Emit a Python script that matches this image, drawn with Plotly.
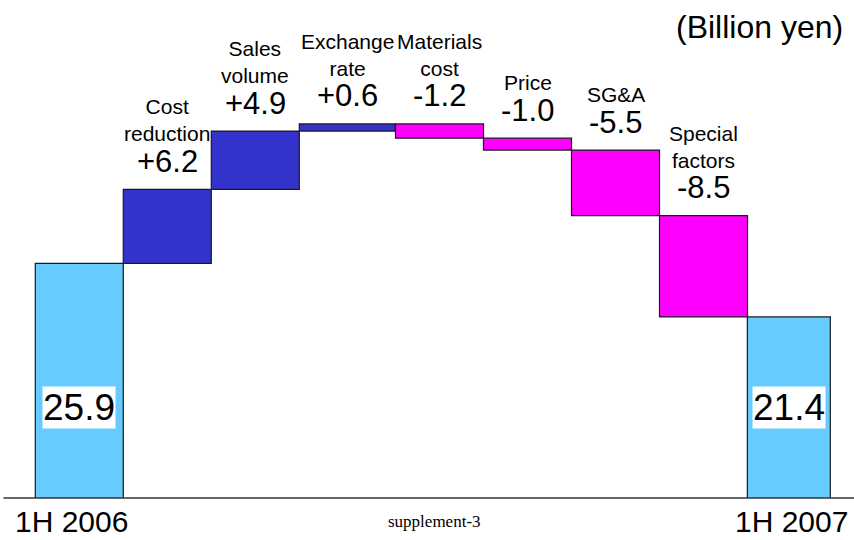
import numpy as np
import plotly.graph_objects as go

# Operating income bridge, 1H 2006 -> 1H 2007 (billion yen)
categories = ["1H 2006", "Cost<br>reduction", "Sales<br>volume", "Exchange<br>rate",
              "Materials<br>cost", "Price", "SG&A", "Special<br>factors", "1H 2007"]
values = [25.9, 6.2, 4.9, 0.6, -1.2, -1.0, -5.5, -8.5, 21.4]
measures = ["absolute"] + ["relative"] * 7 + ["total"]

# slot geometry (bar widths / offsets in category units)
widths = [1.0, 1.0, 1.0, 1.09, 1.0, 1.0, 1.0, 1.0, 0.943]
offsets = [-0.5, -0.5, -0.5, -0.5, -0.407, -0.407, -0.407, -0.407, -0.409]

C_TOTAL = "#66CCFF"
C_UP = "#3333CC"
C_DOWN = "#FF00FF"
FONT = "Liberation Sans, Arial, sans-serif"

x = list(range(len(values)))
centers = [i + o + w / 2 for i, o, w in zip(x, offsets, widths)]

# running totals to find each bar's top edge
vals = np.array(values)
run = np.cumsum(vals[:-1])
tops = []
for i, v in enumerate(values):
    if i == 0:
        tops.append(v)
    elif i == len(values) - 1:
        tops.append(run[-1])
    else:
        before = run[i - 1]
        tops.append(max(before, before + v))

fig = go.Figure(go.Waterfall(
    x=x,
    y=values,
    measure=measures,
    width=widths,
    offset=offsets,
    connector=dict(visible=False),
    increasing=dict(marker=dict(color=C_UP, line=dict(color="#1a1a1a", width=1.2))),
    decreasing=dict(marker=dict(color=C_DOWN, line=dict(color="#1a1a1a", width=1.2))),
    totals=dict(marker=dict(color=C_TOTAL, line=dict(color="#1a1a1a", width=1.2))),
    hoverinfo="skip",
))

annotations = []
# change labels above the intermediate bars
for i in range(1, len(values) - 1):
    annotations.append(dict(
        x=centers[i], y=tops[i], xref="x", yref="y", text=f"{values[i]:+.1f}",
        showarrow=False, yanchor="middle", yshift=28,
        font=dict(family=FONT, size=31, color="#000"),
    ))
    annotations.append(dict(
        x=centers[i], y=tops[i], xref="x", yref="y", text=categories[i],
        showarrow=False, yanchor="bottom", yshift=42,
        font=dict(family=FONT, size=21, color="#000"),
    ))

# totals printed inside their bars on a white box
for i in (0, len(values) - 1):
    total = values[i]
    annotations.append(dict(
        x=centers[i], y=13.8, xref="x", yref="y", text=f"{total:.1f}",
        showarrow=False, bgcolor="white", borderpad=0,
        font=dict(family=FONT, size=37, color="#000"),
    ))

# period labels under the axis line
annotations.append(dict(x=centers[0], y=-0.0815, xref="x", yref="paper", text=categories[0],
                        showarrow=False, xshift=-8, yanchor="bottom", borderpad=0,
                        font=dict(family=FONT, size=30, color="#000")))
annotations.append(dict(x=centers[-1], y=-0.0815, xref="x", yref="paper", text=categories[-1],
                        showarrow=False, xshift=3, yanchor="bottom", borderpad=0,
                        font=dict(family=FONT, size=30, color="#000")))
annotations.append(dict(x=0.509, y=-0.047, xref="paper", yref="paper", text="supplement-3",
                        showarrow=False, yanchor="middle",
                        font=dict(family="Liberation Serif, Times New Roman, serif", size=17, color="#000")))
annotations.append(dict(x=0.99, y=0.946, xref="paper", yref="paper", text="(Billion yen)",
                        showarrow=False, xanchor="right", yanchor="middle",
                        font=dict(family=FONT, size=32, color="#000")))

fig.update_layout(
    width=854, height=540,
    margin=dict(l=0, r=0, t=0, b=42),
    paper_bgcolor="white", plot_bgcolor="white",
    showlegend=False,
    xaxis=dict(range=[-0.901, 8.803], visible=False, fixedrange=True),
    yaxis=dict(range=[6.2, 48.0], visible=False, fixedrange=True),
    annotations=annotations,
    shapes=[dict(type="line", xref="paper", yref="paper", x0=0.004, x1=1, y0=0, y1=0,
                 line=dict(color="#333333", width=1.5), layer="above")],
)

fig.write_html("out.html", config={"displayModeBar": False})
